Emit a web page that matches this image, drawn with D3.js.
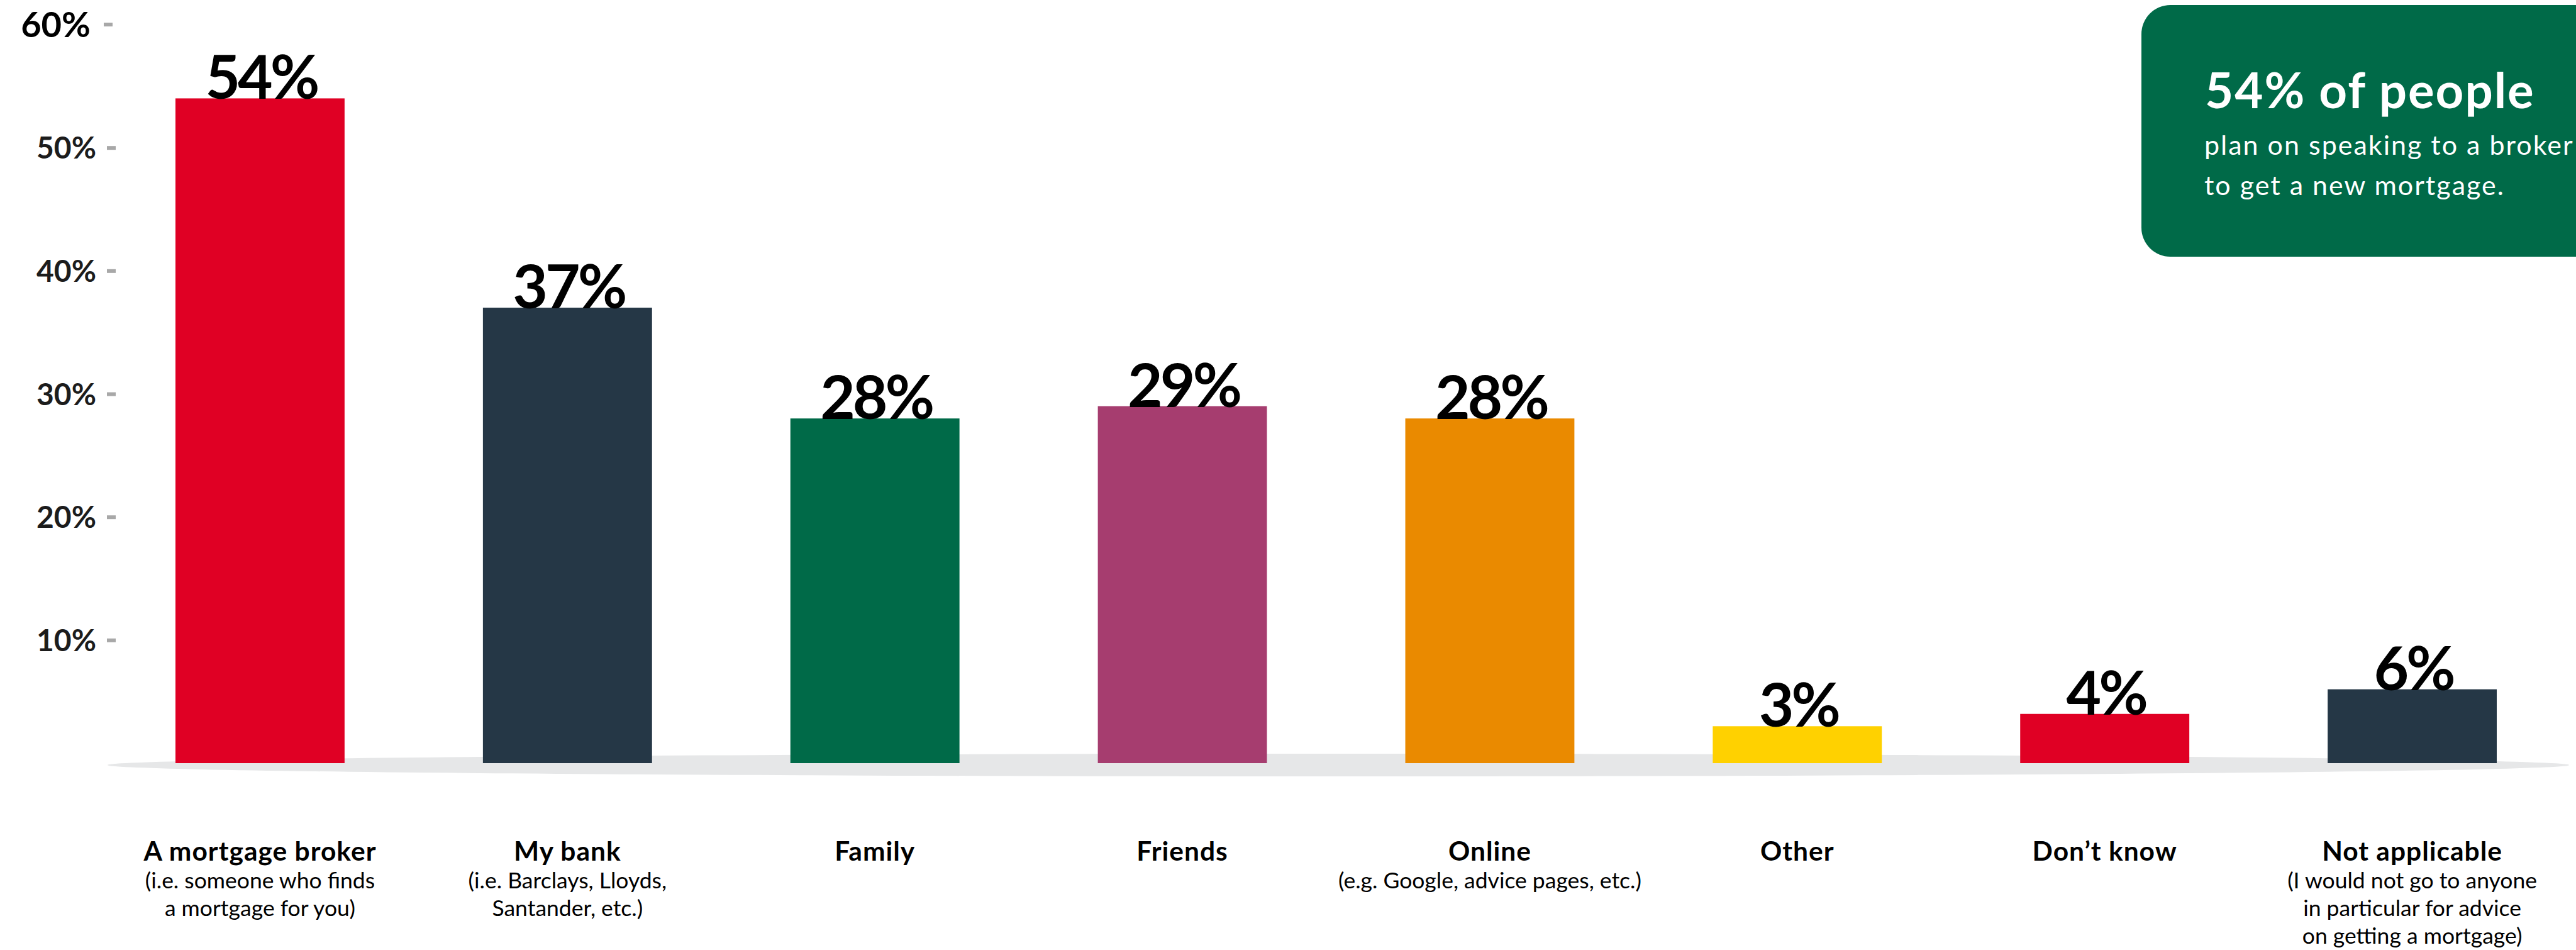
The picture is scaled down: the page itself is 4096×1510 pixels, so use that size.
<!DOCTYPE html>
<html>
<head>
<meta charset="utf-8">
<script src="https://cdn.jsdelivr.net/npm/d3@7"></script>
<style>
  html, body { margin: 0; padding: 0; background: #ffffff; }
  svg { display: block; }
  text { font-family: Lato, "Open Sans", sans-serif; }
</style>
</head>
<body>
<svg id="chart" width="4096" height="1510"></svg>
<script>
// Where people plan to go for advice on a new mortgage (% of respondents)
const categories = [
  "A mortgage broker", "My bank", "Family", "Friends",
  "Online", "Other", "Don’t know", "Not applicable"
];
const subLabels = [
  ["(i.e. someone who finds", "a mortgage for you)"],
  ["(i.e. Barclays, Lloyds,", "Santander, etc.)"],
  [],
  [],
  ["(e.g. Google, advice pages, etc.)"],
  [],
  [],
  ["(I would not go to anyone", "in particular for advice", "on getting a mortgage)"]
];
const values = [54, 37, 28, 29, 28, 3, 4, 6];
const barColors = ["#e00024", "#253746", "#006a48", "#a63d6f", "#ea8a00", "#ffd100", "#e00024", "#253746"];
const yTicks = [10, 20, 30, 40, 50, 60];
const calloutTitle = "54% of people";
const calloutLines = ["plan on speaking to a broker", "to get a new mortgage."];

const W = 4096, H = 1510;
const svg = d3.select("#chart");

const x = d3.scaleBand()
  .domain(categories)
  .range([169, 4080])
  .paddingInner(0.45)
  .paddingOuter(0.225);

const y = d3.scaleLinear()
  .domain([0, 60])
  .range([1213, 39]);

// soft grey floor under the bars
svg.append("ellipse")
  .attr("cx", 2128)
  .attr("cy", 1216)
  .attr("rx", 1957)
  .attr("ry", 18)
  .attr("fill", "#e6e7e8");

// bars
svg.append("g")
  .selectAll("rect")
  .data(values)
  .join("rect")
  .attr("x", (d, i) => x(categories[i]))
  .attr("y", d => y(d))
  .attr("width", x.bandwidth())
  .attr("height", d => y(0) - y(d))
  .attr("fill", (d, i) => barColors[i]);

// value labels sitting on top of each bar
svg.append("g")
  .selectAll("text")
  .data(values)
  .join("text")
  .attr("x", (d, i) => x(categories[i]) + x.bandwidth() / 2 + 2)
  .attr("y", d => y(d) + 1)
  .attr("text-anchor", "middle")
  .attr("font-size", 96)
  .attr("font-weight", 700)
  .attr("letter-spacing", -4)
  .attr("fill", "#000")
  .text(d => d + "%");

// y axis: short grey dashes with percentage labels
const yAxis = svg.append("g")
  .attr("transform", "translate(184,0)")
  .call(d3.axisLeft(y)
    .tickValues(yTicks)
    .tickFormat(d => d + "%")
    .tickSize(14)
    .tickPadding(17));
yAxis.select(".domain").remove();
yAxis.selectAll(".tick line")
  .attr("stroke", "#a8a8a8")
  .attr("stroke-width", 6);
yAxis.selectAll(".tick text")
  .attr("font-size", 48)
  .attr("font-weight", 700)
  .attr("fill", "#1c1c1c")
  .attr("dy", "0.36em");
// the top tick is drawn a little larger
const topTick = yAxis.selectAll(".tick").filter(d => d === 60);
topTick.attr("transform", `translate(-5,${y(60)})`);
topTick.select("text")
  .attr("font-size", 56)
  .attr("fill", "#000")
  .attr("x", -35);

// category labels under the bars
const catG = svg.append("g")
  .selectAll("g")
  .data(categories)
  .join("g")
  .attr("transform", d => `translate(${x(d) + x.bandwidth() / 2},0)`);

catG.append("text")
  .attr("y", 1368)
  .attr("text-anchor", "middle")
  .attr("font-size", 42.5)
  .attr("font-weight", 700)
  .attr("letter-spacing", 1)
  .attr("fill", "#000")
  .text(d => d);

catG.each(function(d, i) {
  d3.select(this).selectAll("text.sub")
    .data(subLabels[i])
    .join("text")
    .attr("class", "sub")
    .attr("y", (s, k) => 1412 + k * 44)
    .attr("text-anchor", "middle")
    .attr("font-size", 35.5)
    .attr("font-weight", 400)
    .attr("fill", "#000")
    .text(s => s);
});

// green callout box, running off the right edge
const callout = svg.append("g");
callout.append("rect")
  .attr("x", 3405)
  .attr("y", 8)
  .attr("width", W - 3405 + 80)
  .attr("height", 400)
  .attr("rx", 46)
  .attr("ry", 46)
  .attr("fill", "#006a48");

callout.append("text")
  .attr("x", 3506)
  .attr("y", 172)
  .attr("font-size", 78)
  .attr("font-weight", 700)
  .attr("letter-spacing", 2)
  .attr("fill", "#ffffff")
  .text(calloutTitle);

callout.selectAll("text.line")
  .data(calloutLines)
  .join("text")
  .attr("class", "line")
  .attr("x", 3505)
  .attr("y", (d, i) => 246 + i * 64)
  .attr("font-size", 43)
  .attr("font-weight", 400)
  .attr("letter-spacing", 2)
  .attr("fill", "#ffffff")
  .text(d => d);
</script>
</body>
</html>
